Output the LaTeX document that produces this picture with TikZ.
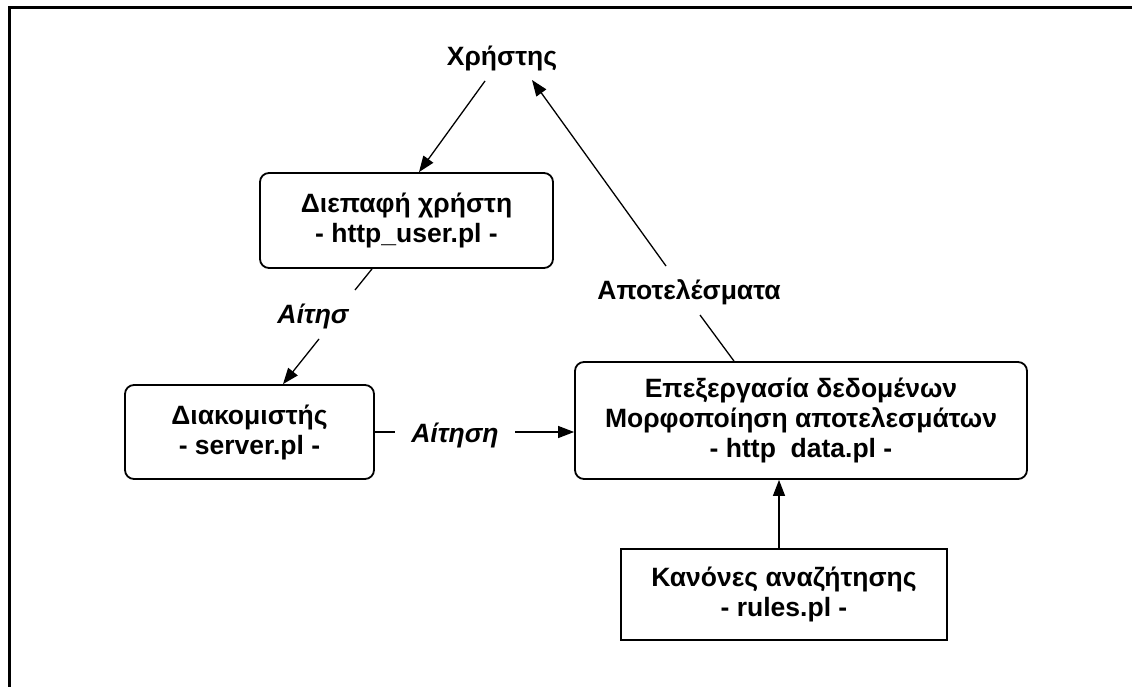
\documentclass[tikz,border=0pt]{standalone}
\usepackage{fontspec}
\setmainfont{Liberation Sans}
\usetikzlibrary{arrows.meta}
\begin{document}
\begin{tikzpicture}[x=1pt,y=-1pt,
  txt/.style={font=\fontsize{26.5}{30}\selectfont\bfseries},
  box/.style={txt,draw,line width=1.8pt,rounded corners=9pt,align=center,inner sep=0pt},
  sqbox/.style={txt,draw,line width=1.8pt,align=center,inner sep=0pt},
  lbl/.style={txt,inner sep=0pt,anchor=base},
  ilbl/.style={lbl,font=\fontsize{26.5}{30}\selectfont\bfseries\itshape},
  conn/.style={line width=1.3pt},
  arr/.style={conn,-{Triangle[length=16pt,width=12pt]}}]
\useasboundingbox (0,0) rectangle (1132,687);
% frame (cropped on right and bottom)
\draw[line width=3pt] (9.5,700) -- (9.5,8) -- (1145,8);

% nodes
\node[lbl] (user) at (502,66) {Χρήστης};
\node[box,minimum width=293pt,minimum height=95pt] (ui) at (406.5,220.5) {Διεπαφή χρήστη\\- http\_user.pl -};
\node[box,minimum width=249pt,minimum height=94pt] (srv) at (249.5,432) {Διακομιστής\\- server.pl -};
\node[box,minimum width=452pt,minimum height=117pt] (data) at (801,420.5) {Επεξεργασία δεδομένων\\Μορφοποίηση αποτελεσμάτων\\- http\ \ data.pl -};
\node[sqbox,minimum width=326pt,minimum height=91pt] (rules) at (784,594.5) {Κανόνες αναζήτησης\\- rules.pl -};

% labels
\node[ilbl] (a1) at (313,323) {Αίτησ};
\node[ilbl] (a2) at (455,442) {Αίτηση};
\node[lbl] (a3) at (689,299) {Αποτελέσματα};

% connectors
\draw[arr] ([xshift=-17pt,yshift=-15pt]user.base) -- ([xshift=12.5pt]ui.north);

\draw[conn] ([xshift=-34.5pt]ui.south) -- ([xshift=42pt,yshift=33pt]a1.base);
\draw[arr] ([xshift=6pt,yshift=-16pt]a1.base) -- ([xshift=33.5pt]srv.north);

\draw[conn] (srv.east) -- ([xshift=-60pt,yshift=10pt]a2.base);
\draw[arr] ([xshift=60pt,yshift=10pt]a2.base) -- ([yshift=-11.5pt]data.west);

\draw[conn] ([xshift=-67pt]data.north) -- ([xshift=11pt,yshift=-16pt]a3.base);
\draw[arr] ([xshift=-23pt,yshift=33pt]a3.base) -- ([xshift=30pt,yshift=-14pt]user.base);

\draw[arr] ([xshift=-5pt]rules.north) -- ([xshift=-22pt]data.south);
\end{tikzpicture}
\end{document}
